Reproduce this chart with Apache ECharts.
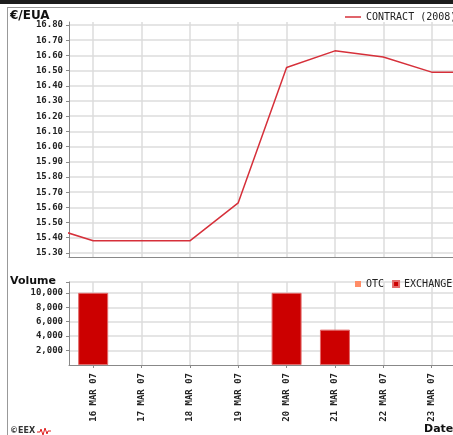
<!DOCTYPE html>
<html>
<head>
<meta charset="utf-8">
<script src="https://cdn.jsdelivr.net/npm/echarts@6/dist/echarts.min.js"></script>
<style>
  html, body { margin: 0; padding: 0; background: #fff; }
  #chart { width: 453px; height: 435px; }
</style>
</head>
<body>
<div id="chart"></div>
<script>
  // days of March 2007
  const days = [15, 16, 17, 18, 19, 20, 21, 22, 23, 24];
  const contract = [15.48, 15.38, 15.38, 15.38, 15.63, 16.52, 16.63, 16.59, 16.49, 16.49];

  const exchangeDays = [16, 20, 21];
  const exchangeVolume = [10000, 10000, 4900];
  const otcDays = [];
  const otcVolume = [];

  const dayTicks = [16, 17, 18, 19, 20, 21, 22, 23, 24];
  const priceTicks = [15.3, 15.4, 15.5, 15.6, 15.7, 15.8, 15.9, 16.0, 16.1, 16.2, 16.3, 16.4, 16.5, 16.6, 16.7, 16.8];
  const volumeTicks = [2000, 4000, 6000, 8000, 10000];

  const mono = 'DejaVu Sans Mono';
  const gridColor = '#dcdcdc';
  const axisColor = '#888';

  let chart = echarts.init(document.getElementById('chart'));

  let option = {
    animation: false,
    legend: [
      {
        data: ['CONTRACT (2008)'],
        left: 345,
        top: 12,
        padding: 0,
        width: 200,
        icon: 'rect',
        itemWidth: 16,
        itemHeight: 1.5,
        textStyle: { fontFamily: mono, fontSize: 10, color: '#222' }
      },
      {
        data: ['OTC', 'EXCHANGE'],
        orient: 'horizontal',
        left: 355,
        top: 279,
        padding: 0,
        width: 200,
        icon: 'rect',
        itemWidth: 6,
        itemHeight: 6,
        itemGap: 8,
        textStyle: { fontFamily: mono, fontSize: 10, color: '#222' }
      }
    ],
    grid: [
      { left: 69, top: 22, height: 235.5, width: 411, outerBoundsMode: 'none' },
      { left: 69, top: 282, height: 83, width: 411, outerBoundsMode: 'none' }
    ],
    xAxis: [
      {
        gridIndex: 0,
        type: 'value',
        min: 15.5,
        max: 24,
        axisLine: { lineStyle: { color: axisColor } },
        axisTick: { show: false, customValues: dayTicks },
        axisLabel: { show: false },
        splitLine: { lineStyle: { color: gridColor, width: 1.5 } }
      },
      {
        gridIndex: 1,
        type: 'value',
        min: 15.5,
        max: 24,
        axisLine: { lineStyle: { color: axisColor } },
        axisTick: { customValues: dayTicks, length: 3, lineStyle: { color: axisColor } },
        axisLabel: {
          customValues: dayTicks,
          rotate: 90,
          margin: 8,
          fontFamily: mono,
          fontSize: 9,
          fontWeight: 'bold',
          color: '#222',
          formatter: v => v + ' MAR 07'
        },
        splitLine: { lineStyle: { color: gridColor, width: 1.5 } }
      }
    ],
    yAxis: [
      {
        gridIndex: 0,
        type: 'value',
        min: 15.27,
        max: 16.82,
        axisLine: { show: true, lineStyle: { color: axisColor } },
        axisTick: { show: true, customValues: priceTicks, length: 3, lineStyle: { color: axisColor } },
        axisLabel: {
          customValues: priceTicks,
          margin: 6,
          fontFamily: mono,
          fontSize: 9,
          fontWeight: 'bold',
          color: '#222',
          formatter: v => v.toFixed(2)
        },
        splitLine: { lineStyle: { color: gridColor, width: 1.5 } }
      },
      {
        gridIndex: 1,
        type: 'value',
        min: 0,
        max: 11500,
        axisLine: { show: true, lineStyle: { color: axisColor } },
        axisTick: { show: true, customValues: volumeTicks.concat([11500]), length: 3, lineStyle: { color: axisColor } },
        axisLabel: {
          customValues: volumeTicks,
          margin: 6,
          fontFamily: mono,
          fontSize: 9,
          fontWeight: 'bold',
          color: '#222',
          formatter: v => v.toLocaleString('en-US')
        },
        splitLine: { lineStyle: { color: gridColor, width: 1.5 } }
      }
    ],
    series: [
      {
        name: 'CONTRACT (2008)',
        type: 'line',
        xAxisIndex: 0,
        yAxisIndex: 0,
        symbol: 'none',
        color: '#d6303a',
        lineStyle: { width: 1.5 },
        data: days.map((d, i) => [d, contract[i]])
      },
      {
        name: 'OTC',
        type: 'bar',
        xAxisIndex: 1,
        yAxisIndex: 1,
        color: '#ff8c66',
        barWidth: 30,
        data: otcDays.map((d, i) => [d, otcVolume[i]])
      },
      {
        name: 'EXCHANGE',
        type: 'bar',
        xAxisIndex: 1,
        yAxisIndex: 1,
        color: '#cc0000',
        barWidth: 30,
        barGap: '-100%',
        itemStyle: { borderColor: '#e36a6a', borderWidth: 1 },
        data: exchangeDays.map((d, i) => [d, exchangeVolume[i]])
      }
    ],
    graphic: [
      { type: 'rect', shape: { x: 0, y: 0, width: 453, height: 4 }, style: { fill: '#1c1c1c' } },
      { type: 'line', shape: { x1: 7, y1: 7.5, x2: 453, y2: 7.5 }, style: { stroke: '#999', lineWidth: 1 } },
      { type: 'line', shape: { x1: 7.5, y1: 7, x2: 7.5, y2: 435 }, style: { stroke: '#999', lineWidth: 1 } },
      { type: 'text', left: 10, top: 10, style: { text: '€/EUA', font: 'bold 12px "DejaVu Sans"', fill: '#111' } },
      { type: 'text', left: 10, top: 276, style: { text: 'Volume', font: 'bold 11px "DejaVu Sans"', fill: '#111' } },
      { type: 'text', left: 424, top: 424, style: { text: 'Date', font: 'bold 11px "DejaVu Sans"', fill: '#111' } },
      { type: 'text', left: 10, top: 427, style: { text: '©EEX', font: 'bold 8px "DejaVu Sans"', fill: '#333' } },
      {
        type: 'polyline',
        shape: { points: [[37, 432], [40, 432], [41, 429], [43, 435], [45, 428], [47, 434], [48, 431], [51, 431]] },
        style: { stroke: '#e02020', lineWidth: 1, fill: null }
      }
    ]
  };
  chart.setOption(option);
</script>
</body>
</html>
